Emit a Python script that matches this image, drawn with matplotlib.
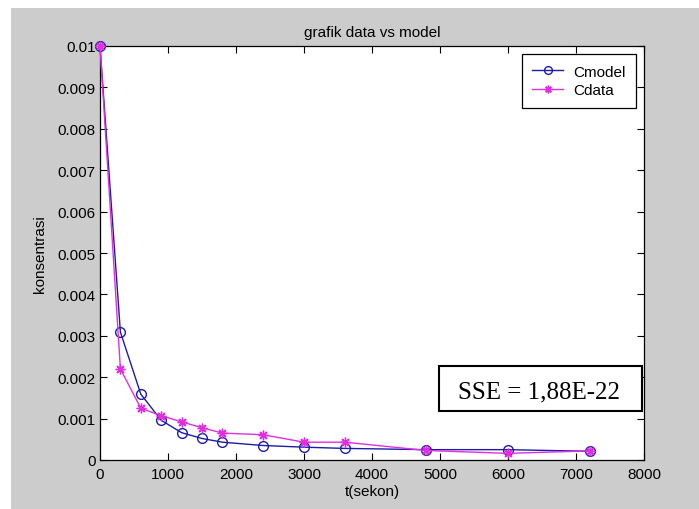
import matplotlib
matplotlib.use("Agg")
import matplotlib.pyplot as plt
from matplotlib.patches import Rectangle

t = [0, 300, 600, 900, 1200, 1500, 1800, 2400, 3000, 3600, 4800, 6000, 7200]
c_model = [0.0100, 0.00309, 0.00159, 0.00096, 0.00066, 0.00052, 0.00043, 0.00035,
           0.00031, 0.00028, 0.00025, 0.00025, 0.00021]
c_data = [0.0100, 0.00220, 0.00125, 0.00107, 0.00092, 0.00078, 0.00065, 0.00061,
          0.00043, 0.00043, 0.00023, 0.00016, 0.00022]
xticks = [0, 1000, 2000, 3000, 4000, 5000, 6000, 7000, 8000]
yticks = [0, 0.001, 0.002, 0.003, 0.004, 0.005, 0.006, 0.007, 0.008, 0.009, 0.01]
ytick_labels = ["0", "0.001", "0.002", "0.003", "0.004", "0.005", "0.006",
                "0.007", "0.008", "0.009", "0.01"]

plt.rcParams['font.family'] = ['Liberation Sans', 'DejaVu Sans']

fig = plt.figure(figsize=(6.99, 5.10), dpi=100, facecolor='white')
fig.patches.append(Rectangle((11/699, -0.1), 2, 1.1 - 9/510, transform=fig.transFigure,
                             facecolor='#cccccc', edgecolor='none', zorder=-10))

ax = fig.add_axes([100/699, 1 - 461/510, 544/699, 414/510])
ax.set_facecolor('white')

blue = '#1c1ca8'
mag = '#e02ee0'
ax.plot(t, c_model, color=blue, lw=1.0, marker='o', ms=7, mfc='none',
        mec=blue, mew=1.0, label='Cmodel', clip_on=False, zorder=3)
ax.plot(t, c_data, color=mag, lw=1.0, marker=(8, 2, 0), ms=7, mfc=mag,
        mec=mag, mew=1.0, label='Cdata', clip_on=False, zorder=4)

ax.set_xlim(0, 8000)
ax.set_ylim(0, 0.01)
ax.set_xticks(xticks)
ax.set_xticklabels([str(v) for v in xticks])
ax.set_yticks(yticks)
ax.set_yticklabels(ytick_labels)
ax.tick_params(direction='in', top=True, right=True, length=5, width=0.8,
               labelsize=11, colors='black')
ax.tick_params(axis='x', pad=5)
ax.tick_params(axis='y', pad=3)
for s in ax.spines.values():
    s.set_linewidth(0.9)
    s.set_color('black')

ax.set_title('grafik data vs model', fontsize=11, pad=7)
ax.set_xlabel('t(sekon)', fontsize=11, labelpad=2)
ax.set_ylabel('konsentrasi', fontsize=11, labelpad=8)

leg = ax.legend(loc='upper right', bbox_to_anchor=(536/544, 406/414), fontsize=11,
                frameon=True, fancybox=False, framealpha=1, edgecolor='black',
                borderpad=0.7, handlelength=2.0, labelspacing=0.3,
                handletextpad=0.65, borderaxespad=0, markerscale=0.8)
leg.get_frame().set_linewidth(0.9)

ax.add_patch(Rectangle((339/544, 49/414), 203/544, 45/414, transform=ax.transAxes,
                       facecolor='white', edgecolor='black', linewidth=1.5,
                       zorder=5, clip_on=False))
ax.text(438.5/544, 63/414, 'SSE = 1,88E-22', transform=ax.transAxes,
        fontsize=18, family=['Liberation Serif', 'DejaVu Serif'],
        ha='center', va='baseline', zorder=6)

fig.savefig('out.png', dpi=100, facecolor='white')
